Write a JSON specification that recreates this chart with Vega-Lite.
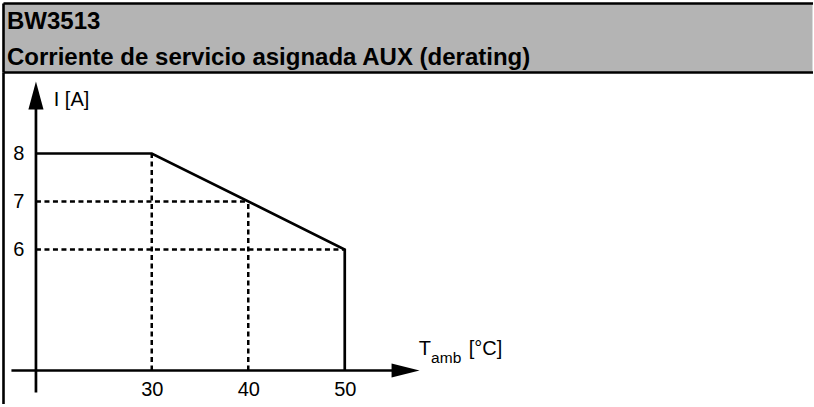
{
  "$schema": "https://vega.github.io/schema/vega-lite/v6.json",
  "background": "white",
  "padding": {"left": 3, "top": 3, "right": 0, "bottom": 0},
  "spacing": 0,
  "config": {
    "font": "Liberation Sans",
    "view": {"stroke": "transparent", "strokeWidth": 0},
    "axis": {"domainColor": "black", "domainWidth": 2.6, "grid": false, "ticks": false, "title": null, "labelColor": "black", "labelFont": "Liberation Sans", "labelFontSize": 20}
  },
  "vconcat": [
    {
      "width": 809.5,
      "height": 69,
      "view": {"fill": "#b4b4b4", "stroke": "transparent", "strokeWidth": 0},
      "data": {"values": [
        {"line": 1, "text": "BW3513"},
        {"line": 2, "text": "Corriente de servicio asignada AUX (derating)"}
      ]},
      "mark": {"type": "text", "align": "left", "baseline": "middle", "fontWeight": "bold", "fontSize": 24, "dx": 4, "color": "black"},
      "encoding": {
        "text": {"field": "text"},
        "x": {"datum": 0, "type": "quantitative", "scale": {"domain": [0, 1], "nice": false, "zero": false}, "axis": {"orient": "top", "domain": true, "labels": false, "ticks": false, "title": null}},
        "y": {"field": "line", "type": "quantitative", "scale": {"domain": [0.4606, 2.4043], "reverse": true, "nice": false, "zero": false}, "axis": {"orient": "left", "domain": true, "labels": false, "ticks": false, "title": null}}
      }
    },
    {
      "width": 809.5,
      "height": 332,
      "resolve": {"axis": {"x": "independent", "y": "independent"}},
      "layer": [
        {
          "data": {"values": [
            {"step": 1, "T": 18, "I": 8},
            {"step": 2, "T": 30, "I": 8},
            {"step": 3, "T": 50, "I": 6},
            {"step": 4, "T": 50, "I": 3.479}
          ]},
          "mark": {"type": "line", "color": "black", "strokeWidth": 2.7, "strokeJoin": "miter"},
          "encoding": {
            "x": {"field": "T", "type": "quantitative", "scale": {"domain": [14.585, 98.471], "nice": false, "zero": false}, "axis": {"orient": "top", "domain": true, "labels": false, "ticks": false, "title": null}},
            "y": {"field": "I", "type": "quantitative", "scale": {"domain": [2.781, 9.698], "nice": false, "zero": false}, "axis": {"orient": "left", "domain": true, "labels": false, "ticks": false, "title": null}},
            "order": {"field": "step"}
          }
        },
        {
          "data": {"values": [
            {"T": 18, "T2": 40, "I": 7, "I2": 7},
            {"T": 18, "T2": 50, "I": 6, "I2": 6},
            {"T": 30, "T2": 30, "I": 3.479, "I2": 8},
            {"T": 40, "T2": 40, "I": 3.479, "I2": 7}
          ]},
          "mark": {"type": "rule", "color": "black", "strokeWidth": 2.5, "strokeDash": [5, 3.5]},
          "encoding": {
            "x": {"field": "T", "type": "quantitative", "scale": {"domain": [14.585, 98.471], "nice": false, "zero": false}, "axis": {"orient": "bottom", "offset": -33.5, "domain": false, "ticks": false, "labels": true, "values": [30, 40, 50], "labelPadding": 9, "title": null}},
            "x2": {"field": "T2"},
            "y": {"field": "I", "type": "quantitative", "scale": {"domain": [2.781, 9.698], "nice": false, "zero": false}, "axis": {"orient": "left", "offset": -20.75, "domain": false, "ticks": false, "labels": true, "values": [6, 7, 8], "labelPadding": 0, "title": null}},
            "y2": {"field": "I2"}
          }
        },
        {
          "data": {"values": [
            {"T": 15.46, "T2": 55, "I": 3.479, "I2": 3.479},
            {"T": 18, "T2": 18, "I": 3.02, "I2": 9.0}
          ]},
          "mark": {"type": "rule", "color": "black", "strokeWidth": 2.7},
          "encoding": {
            "x": {"field": "T", "type": "quantitative", "scale": {"domain": [14.585, 98.471], "nice": false, "zero": false}, "axis": null},
            "x2": {"field": "T2"},
            "y": {"field": "I", "type": "quantitative", "scale": {"domain": [2.781, 9.698], "nice": false, "zero": false}, "axis": null},
            "y2": {"field": "I2"}
          }
        },
        {
          "data": {"values": [{"dir": "up", "T": 18, "I": 9.208}]},
          "mark": {"type": "point", "shape": "M0,-1L0.54,1L-0.54,1Z", "size": 784, "filled": true, "color": "black", "opacity": 1, "strokeWidth": 0},
          "encoding": {
            "x": {"field": "T", "type": "quantitative", "scale": {"domain": [14.585, 98.471], "nice": false, "zero": false}, "axis": null},
            "y": {"field": "I", "type": "quantitative", "scale": {"domain": [2.781, 9.698], "nice": false, "zero": false}, "axis": null}
          }
        },
        {
          "data": {"values": [{"dir": "right", "T": 56.3, "I": 3.479}]},
          "mark": {"type": "point", "shape": "M1,0L-1,-0.5L-1,0.5Z", "size": 784, "filled": true, "color": "black", "opacity": 1, "strokeWidth": 0},
          "encoding": {
            "x": {"field": "T", "type": "quantitative", "scale": {"domain": [14.585, 98.471], "nice": false, "zero": false}, "axis": null},
            "y": {"field": "I", "type": "quantitative", "scale": {"domain": [2.781, 9.698], "nice": false, "zero": false}, "axis": null}
          }
        },
        {
          "data": {"values": [
            {"T": 19.84, "I": 9.12, "text": "I [A]"},
            {"T": 57.67, "I": 3.922, "text": "T"},
            {"T": 62.85, "I": 3.922, "text": "[°C]"}
          ]},
          "mark": {"type": "text", "align": "left", "baseline": "middle", "fontSize": 20, "color": "black"},
          "encoding": {
            "x": {"field": "T", "type": "quantitative", "scale": {"domain": [14.585, 98.471], "nice": false, "zero": false}, "axis": null},
            "y": {"field": "I", "type": "quantitative", "scale": {"domain": [2.781, 9.698], "nice": false, "zero": false}, "axis": null},
            "text": {"field": "text"}
          }
        },
        {
          "data": {"values": [
            {"T": 58.95, "I": 3.739, "text": "amb"}
          ]},
          "mark": {"type": "text", "align": "left", "baseline": "middle", "fontSize": 15.5, "color": "black"},
          "encoding": {
            "x": {"field": "T", "type": "quantitative", "scale": {"domain": [14.585, 98.471], "nice": false, "zero": false}, "axis": null},
            "y": {"field": "I", "type": "quantitative", "scale": {"domain": [2.781, 9.698], "nice": false, "zero": false}, "axis": null},
            "text": {"field": "text"}
          }
        }
      ]
    }
  ]
}
